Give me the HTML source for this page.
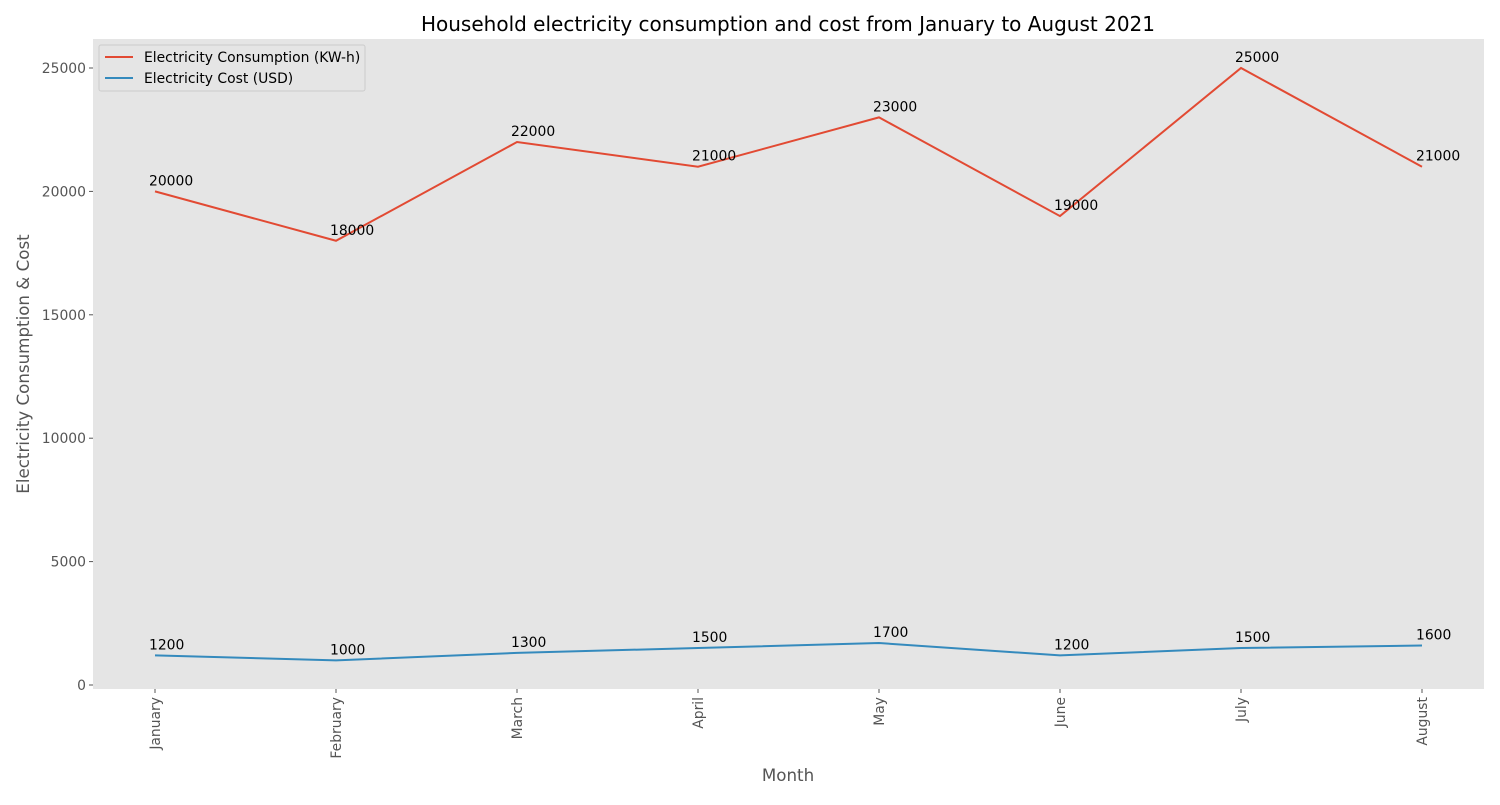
<!DOCTYPE html>
<html><head><meta charset="utf-8"><style>
body{margin:0;background:#fff;font-family:"Liberation Sans","DejaVu Sans",sans-serif}
svg text{font-family:"DejaVu Sans","Liberation Sans",sans-serif}
</style></head><body>
<svg id="chart" width="1500" height="800" xmlns="http://www.w3.org/2000/svg">
<rect x="0" y="0" width="1500" height="800" fill="#fff"/>
<rect x="93" y="39" width="1391" height="650" fill="#e5e5e5"/>
<text x="788" y="31" text-anchor="middle" font-size="20" fill="#000">Household electricity consumption and cost from January to August 2021</text>
<text x="788" y="781" text-anchor="middle" font-size="16.7" fill="#555">Month</text>
<text transform="translate(29,364) rotate(-90)" text-anchor="middle" font-size="16.7" fill="#555">Electricity Consumption &amp; Cost</text>
<g id="axes"></g>
<g id="series"></g>
<g>
<rect x="99" y="45" width="266" height="46" fill="#e5e5e5" stroke="#ccc" stroke-width="1" rx="2"/>
<line x1="105" y1="57" x2="133" y2="57" stroke="#E24A33" stroke-width="2"/>
<text x="144" y="62" font-size="13.9" fill="#000">Electricity Consumption (KW-h)</text>
<line x1="105" y1="78" x2="133" y2="78" stroke="#348ABD" stroke-width="2"/>
<text x="144" y="83" font-size="13.9" fill="#000">Electricity Cost (USD)</text>
</g>
</svg>
<script>
const months=["January","February","March","April","May","June","July","August"];
const consumption=[20000,18000,22000,21000,23000,19000,25000,21000];
const cost=[1200,1000,1300,1500,1700,1200,1500,1600];
const yTicks=[0,5000,10000,15000,20000,25000];
const NS="http://www.w3.org/2000/svg";
const x=i=>155+i*181;
const y=v=>685-v*0.02468;
function mk(tag,attrs,parent,text){const e=document.createElementNS(NS,tag);for(const k in attrs)e.setAttribute(k,attrs[k]);if(text!==undefined)e.textContent=text;parent.appendChild(e);return e;}
const axes=document.getElementById('axes');
yTicks.forEach(t=>{
 const l=mk('line',{x1:89,x2:93,y1:y(t),y2:y(t),stroke:'#555'},axes);
 
 
 const tx=mk('text',{x:86,y:y(t)+5,'text-anchor':'end','font-size':13.9,fill:'#555'},axes,String(t));
 
 
});
months.forEach((m,i)=>{
 const l=mk('line',{x1:x(i),x2:x(i),y1:689,y2:693,stroke:'#555'},axes);
 
 
 const tx=mk('text',{transform:`translate(${x(i)+5},697) rotate(-90)`,'text-anchor':'end','font-size':13.9,fill:'#555'},axes,m);
 
 
});
const series=document.getElementById('series');
[[consumption,'#E24A33','consumption'],[cost,'#348ABD','cost']].forEach(([data,col,name])=>{
 const p=mk('polyline',{points:data.map((v,i)=>x(i)+','+y(v)).join(' '),fill:'none',stroke:col,'stroke-width':2},series);
 
 
 data.forEach((v,i)=>{
  const t=mk('text',{x:x(i)-6,y:y(v)-6,'font-size':13.9,fill:'#000'},series,String(v));
  
  
 });
});
</script>
</body></html>
